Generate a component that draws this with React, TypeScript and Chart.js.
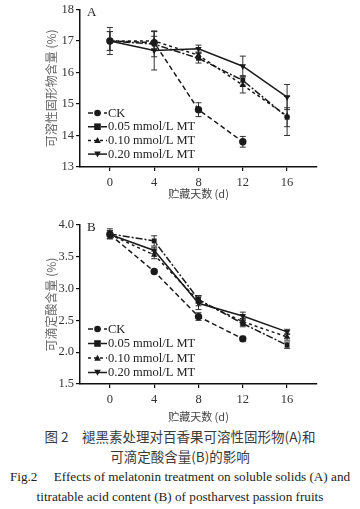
import React, { useEffect, useRef } from "react";
import { Chart, registerables } from "chart.js";

Chart.register(...registerables);

const days = [0, 4, 8, 12, 16];
const seriesNames = ["CK", "0.05 mmol/L MT", "0.10 mmol/L MT", "0.20 mmol/L MT"];

// Panel A: soluble solids (%)
const ssCK = [17.0, 16.95, 14.82, 13.8, null];
const ss005 = [17.0, 16.9, 16.45, 15.75, 14.58];
const ss010 = [17.0, 17.0, 16.55, 15.6, 14.62];
const ss020 = [17.0, 16.7, 16.75, 16.2, 15.22];
const ssErrCK = [0.3, 0.2, 0.22, 0.17, null];
const ssErr005 = [0.3, 0.4, 0.15, 0.15, 0.3];
const ssErr010 = [0.3, 0.3, 0.1, 0.25, 0.62];
const ssErr020 = [0.43, 0.62, 0.12, 0.32, 0.4];
const ssTicks = [13, 14, 15, 16, 17, 18];

// Panel B: titratable acid (%)
const taCK = [3.85, 3.27, 2.56, 2.21, null];
const ta005 = [3.86, 3.75, 2.83, 2.45, 2.11];
const ta010 = [3.85, 3.53, 2.81, 2.48, 2.24];
const ta020 = [3.85, 3.6, 2.77, 2.57, 2.32];
const taErrCK = [0.06, 0.03, 0.06, 0.04, null];
const taErr005 = [0.08, 0.08, 0.06, 0.05, 0.05];
const taErr010 = [0.06, 0.06, 0.08, 0.05, 0.05];
const taErr020 = [0.06, 0.05, 0.1, 0.06, 0.04];
const taTicks = [1.5, 2.0, 2.5, 3.0, 3.5, 4.0];

const serif = "'Liberation Serif', 'Times New Roman', serif";
const cjk = "'Noto Sans CJK SC', sans-serif";
const lineColor = "#1a1a1a";
const dashes = [[5, 3], [7, 2, 2, 2], [3, 3], []];
const markers = ["circle", "rect", "triangle", "triangle"];
const rotations = [0, 0, 0, 180];

function drawMarker(ctx: CanvasRenderingContext2D, kind: number, x: number, y: number, r: number) {
  ctx.beginPath();
  if (kind === 0) {
    ctx.arc(x, y, r, 0, Math.PI * 2);
  } else if (kind === 1) {
    ctx.rect(x - r, y - r, 2 * r, 2 * r);
  } else if (kind === 2) {
    ctx.moveTo(x, y - r);
    ctx.lineTo(x + r, y + r * 0.8);
    ctx.lineTo(x - r, y + r * 0.8);
    ctx.closePath();
  } else {
    ctx.moveTo(x, y + r);
    ctx.lineTo(x + r, y - r * 0.8);
    ctx.lineTo(x - r, y - r * 0.8);
    ctx.closePath();
  }
  ctx.fill();
}

type Props = {
  values: (number | null)[][];
  errors: (number | null)[][];
  ticks: number[];
  yTitle: string;
  panel: string;
  decimals: number;
  padTop: number;
  xHeight: number;
  xTitlePad: number;
  canvasHeight: number;
  legendTop: number;
  legendGap: number;
};

function Panel(p: Props) {
  const ref = useRef<HTMLCanvasElement | null>(null);
  useEffect(() => {
    if (!ref.current) return;
    const errorPlugin = {
      id: "errbars",
      beforeDatasetsDraw(chart: any) {
        const ctx = chart.ctx;
        const xs = chart.scales.x;
        const ys = chart.scales.y;
        ctx.save();
        ctx.strokeStyle = "#333";
        ctx.lineWidth = 1;
        p.values.forEach((vals, i) => {
          vals.forEach((v, j) => {
            const e = p.errors[i][j];
            if (v == null || e == null) return;
            const x = xs.getPixelForValue(days[j]);
            const y1 = ys.getPixelForValue(v - e);
            const y2 = ys.getPixelForValue(v + e);
            ctx.beginPath();
            ctx.moveTo(x, y1);
            ctx.lineTo(x, y2);
            ctx.moveTo(x - 3, y1);
            ctx.lineTo(x + 3, y1);
            ctx.moveTo(x - 3, y2);
            ctx.lineTo(x + 3, y2);
            ctx.stroke();
          });
        });
        ctx.restore();
      },
    };
    const legendPlugin = {
      id: "customLegend",
      afterDraw(chart: any) {
        const ctx = chart.ctx;
        const ca = chart.chartArea;
        ctx.save();
        ctx.fillStyle = "#222";
        ctx.font = `13px ${serif}`;
        ctx.textBaseline = "middle";
        ctx.fillText(p.panel, ca.left + 7, ca.top + 3);
        ctx.font = `12.5px ${serif}`;
        seriesNames.forEach((name, i) => {
          const y = p.legendTop + i * p.legendGap;
          const x0 = ca.left + 8;
          const x1 = x0 + 19;
          ctx.strokeStyle = lineColor;
          ctx.lineWidth = 1.5;
          ctx.setLineDash(dashes[i]);
          ctx.beginPath();
          ctx.moveTo(x0, y);
          ctx.lineTo(x1, y);
          ctx.stroke();
          ctx.setLineDash([]);
          ctx.fillStyle = lineColor;
          drawMarker(ctx, i, (x0 + x1) / 2, y, 3.3);
          ctx.fillStyle = "#222";
          ctx.fillText(name, x1 + 1, y + 0.5);
        });
        ctx.restore();
      },
    };
    const chart = new Chart(ref.current, {
      type: "line",
      data: {
        labels: days,
        datasets: p.values.map((vals, i) => ({
          label: seriesNames[i],
          data: vals.map((v, j) => ({ x: days[j], y: v })),
          borderColor: lineColor,
          backgroundColor: lineColor,
          borderWidth: 1.5,
          borderDash: dashes[i],
          pointStyle: markers[i] as any,
          pointRotation: rotations[i],
          pointRadius: i === 1 ? 3.4 : 3.7,
          pointBorderWidth: 0,
          spanGaps: false,
          fill: false,
          tension: 0,
        })),
      },
      options: {
        responsive: false,
        animation: false,
        devicePixelRatio: 1,
        layout: { padding: { top: p.padTop, right: 43, left: 44, bottom: 0 } },
        plugins: { legend: { display: false }, tooltip: { enabled: false } },
        scales: {
          x: {
            type: "linear",
            min: -2.7,
            max: 18.7,
            afterBuildTicks: (s: any) => {
              s.ticks = days.map((d) => ({ value: d }));
            },
            afterFit: (s: any) => {
              s.height = p.xHeight;
            },
            ticks: {
              color: "#333",
              font: { family: serif, size: 12.5 },
              padding: 4,
              maxRotation: 0,
            },
            grid: { drawOnChartArea: false, drawTicks: true, tickLength: 4, color: "#111", lineWidth: 1.2 },
            border: { display: true, color: "#111", width: 1.5 },
            title: {
              display: true,
              text: "贮藏天数 (d)",
              color: "#444",
              font: { family: cjk, size: 11 },
              padding: { top: 0, bottom: p.xTitlePad },
            },
          },
          y: {
            type: "linear",
            min: p.ticks[0],
            max: p.ticks[p.ticks.length - 1],
            afterBuildTicks: (s: any) => {
              s.ticks = p.ticks.map((d) => ({ value: d }));
            },
            afterFit: (s: any) => {
              s.width = 36;
            },
            ticks: {
              color: "#333",
              font: { family: serif, size: 12.5 },
              padding: 2,
              callback: (v: any) => Number(v).toFixed(p.decimals),
            },
            grid: { drawOnChartArea: false, drawTicks: true, tickLength: 4, color: "#111", lineWidth: 1.2 },
            border: { display: true, color: "#111", width: 1.5 },
            title: {
              display: true,
              text: p.yTitle,
              color: "#666",
              font: { family: cjk, size: 12 },
              padding: { top: 0, bottom: 0 },
            },
          },
        },
      },
      plugins: [errorPlugin, legendPlugin],
    } as any);
    return () => chart.destroy();
  }, []);
  return <canvas ref={ref} width={360} height={p.canvasHeight} style={{ display: "block" }} />;
}

export default function App() {
  const captionBase: React.CSSProperties = {
    position: "absolute",
    left: 0,
    width: 360,
    textAlign: "center",
    color: "#333",
    whiteSpace: "nowrap",
  };
  return (
    <div style={{ position: "absolute", left: 0, top: 0, width: 360, height: 509, background: "#fff" }}>
      <div style={{ position: "absolute", left: 0, top: 0 }}>
        <Panel
          values={[ssCK, ss005, ss010, ss020]}
          errors={[ssErrCK, ssErr005, ssErr010, ssErr020]}
          ticks={ssTicks}
          yTitle="可溶性固形物含量 (%)"
          panel="A"
          decimals={0}
          padTop={7}
          xHeight={33}
          xTitlePad={0}
          canvasHeight={200}
          legendTop={113}
          legendGap={13.7}
        />
      </div>
      <div style={{ position: "absolute", left: 0, top: 212 }}>
        <Panel
          values={[taCK, ta005, ta010, ta020]}
          errors={[taErrCK, taErr005, taErr010, taErr020]}
          ticks={taTicks}
          yTitle="可滴定酸含量 (%)"
          panel="B"
          decimals={1}
          padTop={13}
          xHeight={40}
          xTitlePad={1}
          canvasHeight={212}
          legendTop={117}
          legendGap={14.5}
        />
      </div>
      <div style={{ ...captionBase, top: 426, fontFamily: cjk, fontSize: 13.5, lineHeight: "20px", color: "#3a3a3a" }}>
        图 2　褪黑素处理对百香果可溶性固形物(A)和
        <br />
        可滴定酸含量(B)的影响
      </div>
      <div style={{ ...captionBase, top: 467, fontFamily: serif, fontSize: 13.2, lineHeight: "20px", color: "#222" }}>
        Fig.2　 Effects of melatonin treatment on soluble solids (A) and
        <br />
        titratable acid content (B) of postharvest passion fruits
      </div>
    </div>
  );
}
